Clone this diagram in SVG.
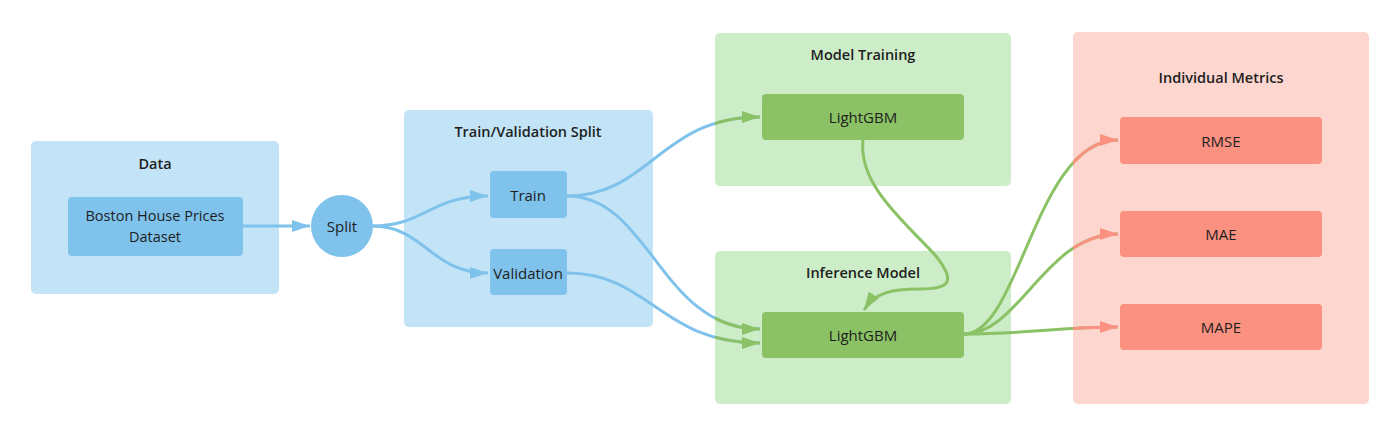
<svg xmlns="http://www.w3.org/2000/svg" width="1400" height="436" viewBox="0 0 1400 436">
<style>
.t{font-family:"Open Sans","Liberation Sans",sans-serif;fill:#1e1e1e;text-anchor:middle;dominant-baseline:central}
.title{font-size:14.5px;font-weight:600}
.lab{font-size:15px}
.lab2{font-size:14.5px}
.cb{fill:#c3e4f6}.cg{fill:#cdecc8}.cr{fill:#fcd6cf}
.nb{fill:#7fc2ec}.ng{fill:#8bc265}.nr{fill:#fa9181}
.e{fill:none;stroke-width:3}
.eb{stroke:#7fc2ec}.eg{stroke:#8bc265}.er{stroke:#fa9181}
</style>
<defs>
<marker id="ab" markerUnits="userSpaceOnUse" markerWidth="18" markerHeight="12" refX="18" refY="6" orient="auto"><path d="M0,0 L18,6 L0,12 z" fill="#7fc2ec"/></marker>
<marker id="ag" markerUnits="userSpaceOnUse" markerWidth="18" markerHeight="12" refX="18" refY="6" orient="auto"><path d="M0,0 L18,6 L0,12 z" fill="#8bc265"/></marker>
<marker id="ar" markerUnits="userSpaceOnUse" markerWidth="18" markerHeight="12" refX="18" refY="6" orient="auto"><path d="M0,0 L18,6 L0,12 z" fill="#fa9181"/></marker>
<clipPath id="clipTrain"><rect x="715" y="33" width="296" height="153"/></clipPath>
<clipPath id="clipInf"><rect x="715" y="251" width="296" height="153"/></clipPath>
<clipPath id="clipMet"><rect x="1073" y="32" width="296" height="372"/></clipPath>
</defs>
<rect width="1400" height="436" fill="#ffffff"/>

<g id="cluster-data"><rect class="cb" x="31" y="141" width="248" height="153" rx="5"/><text class="t title" x="155" y="163">Data</text></g>
<g id="cluster-split"><rect class="cb" x="404" y="110" width="249" height="217" rx="5"/><text class="t title" x="528" y="131">Train/Validation Split</text></g>
<g id="cluster-training"><rect class="cg" x="715" y="33" width="296" height="153" rx="5"/><text class="t title" x="863" y="54">Model Training</text></g>
<g id="cluster-inference"><rect class="cg" x="715" y="251" width="296" height="153" rx="5"/><text class="t title" x="863" y="272">Inference Model</text></g>
<g id="cluster-metrics"><rect class="cr" x="1073" y="32" width="296" height="372" rx="5"/><text class="t title" x="1221" y="77">Individual Metrics</text></g>

<g id="connectors">
<path class="e eb" d="M243,226 L310,226" marker-end="url(#ab)"/>
<path class="e eb" d="M372,226 C425,226 430,196 488,196" marker-end="url(#ab)"/>
<path class="e eb" d="M372,226 C425,226 430,273 488,273" marker-end="url(#ab)"/>
<path class="e eb" d="M567,196 C650,196 660,117 760,117"/>
<path class="e eg" clip-path="url(#clipTrain)" d="M567,196 C650,196 660,117 760,117" marker-end="url(#ag)"/>
<path class="e eb" d="M567,196 C650,196 660,329 760,329"/>
<path class="e eg" clip-path="url(#clipInf)" d="M567,196 C650,196 660,329 760,329" marker-end="url(#ag)"/>
<path class="e eb" d="M567,273 C650,273 660,343 760,343"/>
<path class="e eg" clip-path="url(#clipInf)" d="M567,273 C650,273 660,343 760,343" marker-end="url(#ag)"/>
<path class="e eg" d="M863,140 C858,185 905,222 935,255 C958,283 948,289 920,289 C890,289 875,293 864,310" marker-end="url(#ag)"/>
<path class="e eg" d="M964,334 C1020,334 1035,140 1118,140"/>
<path class="e er" clip-path="url(#clipMet)" d="M964,334 C1020,334 1035,140 1118,140" marker-end="url(#ar)"/>
<path class="e eg" d="M964,334 C1020,334 1045,234 1118,234"/>
<path class="e er" clip-path="url(#clipMet)" d="M964,334 C1020,334 1045,234 1118,234" marker-end="url(#ar)"/>
<path class="e eg" d="M964,334 C1030,334 1060,327 1118,327"/>
<path class="e er" clip-path="url(#clipMet)" d="M964,334 C1030,334 1060,327 1118,327" marker-end="url(#ar)"/>
</g>

<g id="node-boston"><rect class="nb" x="68" y="197" width="175" height="59" rx="4"/><text class="t lab2" x="155" y="215">Boston House Prices</text><text class="t lab2" x="155" y="236">Dataset</text></g>
<g id="node-split"><circle class="nb" cx="342" cy="226" r="31"/><text class="t lab" x="342" y="226">Split</text></g>
<g id="node-train"><rect class="nb" x="490" y="171" width="77" height="47" rx="4"/><text class="t lab" x="528" y="195">Train</text></g>
<g id="node-validation"><rect class="nb" x="490" y="249" width="77" height="46" rx="4"/><text class="t lab" x="528" y="273">Validation</text></g>
<g id="node-lgbm-train"><rect class="ng" x="762" y="94" width="202" height="46" rx="4"/><text class="t lab" x="863" y="117">LightGBM</text></g>
<g id="node-lgbm-inf"><rect class="ng" x="762" y="312" width="202" height="46" rx="4"/><text class="t lab" x="863" y="335">LightGBM</text></g>
<g id="node-rmse"><rect class="nr" x="1120" y="117" width="202" height="47" rx="4"/><text class="t lab" x="1221" y="141">RMSE</text></g>
<g id="node-mae"><rect class="nr" x="1120" y="211" width="202" height="46" rx="4"/><text class="t lab" x="1221" y="234">MAE</text></g>
<g id="node-mape"><rect class="nr" x="1120" y="304" width="202" height="46" rx="4"/><text class="t lab" x="1221" y="327">MAPE</text></g>
</svg>
